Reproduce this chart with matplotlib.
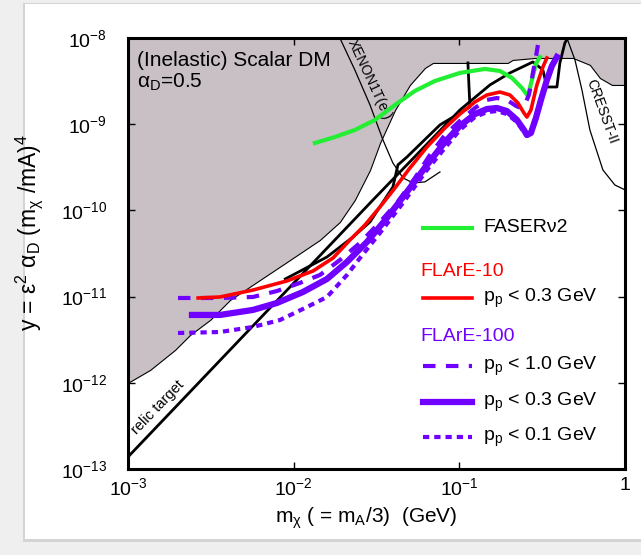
import numpy as np
import matplotlib.pyplot as plt
from matplotlib.patches import Rectangle

plt.rcParams['font.family'] = ['Liberation Sans', 'DejaVu Sans']
plt.rcParams['mathtext.default'] = 'regular'

# lower edge of the excluded (gray) region
bound_m = [1.0e-3, 1.36e-3, 1.92e-3, 2.37e-3, 3.13e-3, 4.13e-3, 6.27e-3, 9.12e-3, 1.44e-2,
           1.90e-2, 2.34e-2, 2.89e-2, 3.32e-2, 4.09e-2, 5.03e-2, 6.20e-2, 6.93e-2, 0.196,
           0.210, 0.286, 0.485, 0.614, 0.706, 0.834, 1.0]
bound_y = [1.0e-12, 1.41e-12, 2.40e-12, 3.59e-12, 5.36e-12, 9.14e-12, 1.56e-11, 2.52e-11, 4.54e-11,
           7.33e-11, 1.32e-10, 2.94e-10, 6.05e-10, 1.46e-9, 2.85e-9, 4.49e-9, 5.13e-9, 5.13e-9,
           5.56e-9, 5.86e-9, 5.86e-9, 4.87e-9, 3.43e-9, 2.85e-9, 2.85e-9]

# XENON1T(e-) and CRESST-II limits
xenon_m = [0.0190, 0.0234, 0.0289, 0.0346, 0.0397, 0.0457, 0.0525, 0.0620, 0.0764]
xenon_y = [1.0e-8, 4.26e-9, 1.67e-9, 6.56e-10, 3.55e-10, 2.38e-10, 2.08e-10, 2.14e-10, 2.79e-10]
cresst_m = [0.446, 0.499, 0.550, 0.614, 0.736, 0.869, 1.0]
cresst_y = [1.0e-8, 5.56e-9, 2.49e-9, 8.57e-10, 2.94e-10, 1.97e-10, 1.73e-10]

# relic target
relic_m = [1.0e-3, 0.03011, 0.1008, 0.1530, 0.2020, 0.2780, 0.3195, 0.3379, 0.3882, 0.4046, 0.4337, 0.452]
relic_y = [1.38e-13, 1.32e-10, 1.46e-9, 2.85e-9, 3.93e-9, 5.27e-9, 4.26e-9, 2.70e-9, 2.70e-9, 5.13e-9,
           8.75e-9, 1.0e-8]
# second black curve
black_m = [8.9e-3, 1.589e-2, 2.280e-2, 2.887e-2, 3.973e-2, 4.260e-2, 4.830e-2, 7.638e-2, 0.1159, 0.1127]
black_y = [1.6e-11, 2.88e-11, 4.91e-11, 7.33e-11, 1.87e-10, 3.37e-10, 4.16e-10, 9.80e-10, 1.58e-9, 5.13e-9]

# FASERnu2
faser_m = [0.01345, 0.01775, 0.02344, 0.03095, 0.04087, 0.05395, 0.07123, 0.1008, 0.1427, 0.1758,
           0.2077, 0.2386, 0.2594, 0.2742, 0.2900, 0.3064]
faser_y = [6.05e-10, 7.10e-10, 8.57e-10, 1.12e-9, 1.67e-9, 2.43e-9, 3.17e-9, 3.93e-9, 4.37e-9, 4.14e-9,
           3.44e-9, 2.63e-9, 2.12e-9, 3.26e-9, 4.99e-9, 6.02e-9]

# FLArE-10, p_p < 0.3 GeV
f10_m = [2.65e-3, 3.59e-3, 5.68e-3, 9.11e-3, 1.308e-2, 1.727e-2, 2.186e-2, 2.694e-2, 3.318e-2, 4.088e-2,
         5.031e-2, 6.375e-2, 8.186e-2, 0.1008, 0.1242, 0.1468, 0.1758, 0.2020, 0.2258, 0.2454,
         0.2559, 0.2705, 0.2939, 0.3195, 0.3379]
f10_y = [9.63e-12, 9.89e-12, 1.19e-11, 1.52e-11, 1.98e-11, 2.80e-11, 4.53e-11, 6.77e-11, 1.095e-10, 1.82e-10,
         3.10e-10, 5.44e-10, 9.03e-10, 1.31e-9, 1.81e-9, 2.18e-9, 2.36e-9, 2.18e-9, 1.76e-9, 1.35e-9,
         1.21e-9, 1.46e-9, 2.85e-9, 4.61e-9, 5.86e-9]

# FLArE-100, p_p < 1.0 GeV
f100a_m = [2.003e-3, 3.59e-3, 5.68e-3, 7.93e-3, 1.091e-2, 1.441e-2, 1.904e-2, 2.513e-2, 3.318e-2, 4.201e-2,
           5.396e-2, 6.648e-2, 8.186e-2, 0.1008, 0.1242, 0.1468, 0.1686, 0.1938, 0.2196, 0.2353,
           0.2523, 0.2630, 0.2705, 0.2780, 0.2900, 0.2981]
f100a_y = [9.63e-12, 9.63e-12, 9.89e-12, 1.16e-11, 1.44e-11, 1.78e-11, 2.66e-11, 4.19e-11, 7.33e-11, 1.22e-10,
           2.38e-10, 4.39e-10, 7.49e-10, 1.09e-9, 1.54e-9, 1.91e-9, 2.01e-9, 1.91e-9, 1.63e-9, 1.54e-9,
           1.81e-9, 2.18e-9, 2.85e-9, 3.93e-9, 6.02e-9, 8.29e-9]
# FLArE-100, p_p < 0.3 GeV
f100b_m = [2.433e-3, 3.59e-3, 5.68e-3, 7.93e-3, 1.138e-2, 1.589e-2, 2.097e-2, 2.77e-2, 3.656e-2, 4.83e-2,
           6.375e-2, 8.186e-2, 0.1008, 0.1242, 0.1468, 0.1686, 0.1938, 0.2227, 0.2454, 0.2559,
           0.2705, 0.2900, 0.3109, 0.3379, 0.3620, 0.3882]
f100b_y = [6.12e-12, 6.12e-12, 7.00e-12, 8.43e-12, 1.13e-11, 1.60e-11, 2.52e-11, 4.30e-11, 8.16e-11, 1.64e-10,
           3.36e-10, 6.21e-10, 9.53e-10, 1.31e-9, 1.50e-9, 1.54e-9, 1.42e-9, 1.12e-9, 8.57e-10, 7.49e-10,
           7.91e-10, 1.18e-9, 1.91e-9, 3.26e-9, 4.73e-9, 6.02e-9]
# FLArE-100, p_p < 0.1 GeV
f100c_m = [2.003e-3, 3.59e-3, 5.68e-3, 8.27e-3, 1.203e-2, 1.589e-2, 2.097e-2, 2.513e-2, 3.318e-2, 4.567e-2,
           6.375e-2, 8.186e-2, 0.1008, 0.1242, 0.1468, 0.1686, 0.1938, 0.2227, 0.2454, 0.2559,
           0.2705, 0.2900, 0.3109, 0.3379, 0.3620, 0.3882]
f100c_y = [3.78e-12, 3.88e-12, 4.44e-12, 5.35e-12, 7.57e-12, 9.89e-12, 1.78e-11, 2.80e-11, 5.47e-11, 1.22e-10,
           2.94e-10, 5.30e-10, 8.57e-10, 1.21e-9, 1.38e-9, 1.42e-9, 1.31e-9, 1.06e-9, 8.12e-10, 7.30e-10,
           7.91e-10, 1.18e-9, 1.91e-9, 3.26e-9, 4.73e-9, 6.02e-9]

green = '#22ee33'
red = '#ff0000'
purple = '#7000ff'

fig = plt.figure(figsize=(6.41, 5.55), dpi=100, facecolor='#efefef')
fig.add_artist(Rectangle((0.036, 0.024), 1.0, 0.97, transform=fig.transFigure,
                         facecolor='#d4d4d4', edgecolor='none', zorder=-2))
fig.add_artist(Rectangle((0.039, 0.029), 1.0, 0.964, transform=fig.transFigure,
                         facecolor='white', edgecolor='none', zorder=-1))

ax = fig.add_axes([0.1997, 0.1550, 0.7753, 0.7766])
ax.set_xscale('log')
ax.set_yscale('log')
ax.set_xlim(1e-3, 1)
ax.set_ylim(1e-13, 1e-8)

ax.fill_between(bound_m, bound_y, 1e-8, facecolor='#c8c0c4', edgecolor='black', linewidth=0.8, zorder=1)
ax.plot(xenon_m, xenon_y, color='black', lw=0.9, zorder=2)
ax.plot(cresst_m, cresst_y, color='black', lw=0.9, zorder=2)
ax.plot(relic_m, relic_y, color='black', lw=2.0, zorder=3)
ax.plot(black_m, black_y, color='black', lw=2.0, zorder=3)

ax.plot(faser_m, faser_y, color=green, lw=3.0, zorder=4)
ax.plot(f100c_m, f100c_y, color=purple, lw=3.0, ls=(0, (1.5, 1.2)), zorder=4)
ax.plot(f100b_m, f100b_y, color=purple, lw=4.5, zorder=4)
ax.plot(f100a_m, f100a_y, color=purple, lw=3.0, ls=(0, (3, 2.5)), zorder=5)
ax.plot(f10_m, f10_y, color=red, lw=2.6, zorder=5)

ax.text(0.018, 0.935, '(Inelastic) Scalar DM', transform=ax.transAxes, fontsize=15, va='baseline')
ax.text(0.018, 0.884, r'$\alpha_D$=0.5', transform=ax.transAxes, fontsize=15, va='baseline')
ax.text(0.436, 0.988, 'XENON1T(e-)', transform=ax.transAxes, fontsize=10, rotation=-65,
        va='bottom', ha='left', rotation_mode='anchor')
ax.text(0.9155, 0.898, 'CRESST-II', transform=ax.transAxes, fontsize=10, rotation=-70,
        va='bottom', ha='left', rotation_mode='anchor')
ax.text(0.022, 0.075, 'relic target', transform=ax.transAxes, fontsize=10.5, rotation=46,
        va='bottom', ha='left', rotation_mode='anchor')

# legend
lx0, lx1, tx = 0.5936, 0.6922, 0.7143
fs = 14
ax.plot([lx0, lx1], [0.5592] * 2, color=green, lw=3.0, transform=ax.transAxes)
ax.text(tx, 0.5592, 'FASERν2', transform=ax.transAxes, fontsize=fs, va='center')
ax.text(0.5875, 0.4571, 'FLArE-10', transform=ax.transAxes, fontsize=fs, va='center', color=red)
ax.plot([lx0, lx1], [0.3968] * 2, color=red, lw=2.6, transform=ax.transAxes)
ax.text(tx, 0.3968, '$p_p$ < 0.3 GeV', transform=ax.transAxes, fontsize=fs, va='center')
ax.text(0.5875, 0.3063, 'FLArE-100', transform=ax.transAxes, fontsize=fs, va='center', color=purple)
ax.plot([lx0, lx1], [0.2390] * 2, color=purple, lw=3.0, ls=(0, (3, 2.5)), transform=ax.transAxes)
ax.text(tx, 0.2390, '$p_p$ < 1.0 GeV', transform=ax.transAxes, fontsize=fs, va='center')
ax.plot([lx0, lx1], [0.1555] * 2, color=purple, lw=4.5, transform=ax.transAxes)
ax.text(tx, 0.1555, '$p_p$ < 0.3 GeV', transform=ax.transAxes, fontsize=fs, va='center')
ax.plot([lx0, lx1], [0.0742] * 2, color=purple, lw=3.0, ls=(0, (1.5, 1.2)), transform=ax.transAxes)
ax.text(tx, 0.0742, '$p_p$ < 0.1 GeV', transform=ax.transAxes, fontsize=fs, va='center')

ax.set_xticks([1e-3, 1e-2, 1e-1, 1])
ax.set_xticklabels(['$10^{-3}$', '$10^{-2}$', '$10^{-1}$', '1'])
ax.set_yticks([1e-13, 1e-12, 1e-11, 1e-10, 1e-9, 1e-8])
ax.set_yticklabels(['$10^{-13}$', '$10^{-12}$', '$10^{-11}$', '$10^{-10}$', '$10^{-9}$', '$10^{-8}$'])
ax.minorticks_off()
ax.tick_params(direction='in', top=True, right=True, length=5, width=1, labelsize=14)
ax.tick_params(axis='x', pad=6)
ax.tick_params(axis='y', pad=15)
for s in ax.spines.values():
    s.set_linewidth(2.2)

ax.set_xlabel('m$_χ$ ( = m$_A$/3)  (GeV)', fontsize=15)
ax.xaxis.set_label_coords(0.479, -0.085)
ax.set_ylabel('y = ε$^2$ α$_D$ (m$_χ$ /mA)$^4$', fontsize=16.5)
ax.yaxis.set_label_coords(-0.168, 0.548)

fig.savefig('out.png', dpi=100, facecolor=fig.get_facecolor())
